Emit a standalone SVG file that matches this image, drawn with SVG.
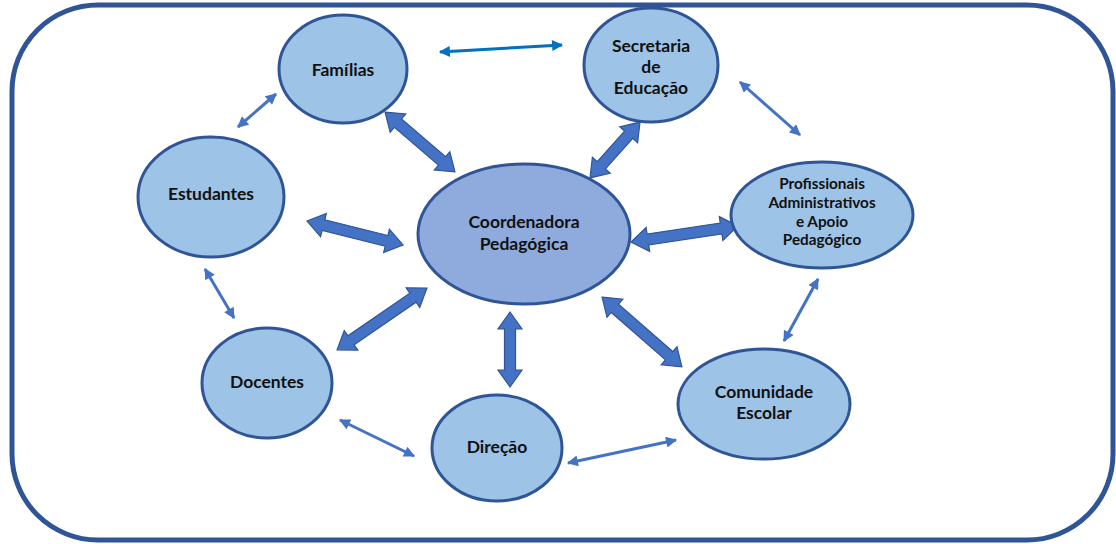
<svg xmlns="http://www.w3.org/2000/svg" width="1116" height="544" viewBox="0 0 1116 544">
<defs>
<style>
.node{fill:#9dc3e6;stroke:#2f5597;stroke-width:3}
.center{fill:#8faadc;stroke:#2f5597;stroke-width:3}
.lbl{font-family:Lato,"Liberation Sans",Arial,sans-serif;font-weight:bold;font-size:17.5px;fill:#111;text-anchor:middle}
.sm{font-size:15.3px}
.big{font-size:17.5px}
.blk{fill:#4472c4;stroke:#2f5597;stroke-width:1.2}
.thin{stroke:#4472c4;stroke-width:3;fill:none;marker-start:url(#ah);marker-end:url(#ah)}
.thin2{stroke:#0070c0;stroke-width:3;fill:none;marker-start:url(#ah2);marker-end:url(#ah2)}
</style>
<marker id="ah" viewBox="0 0 10 10" refX="9" refY="5" markerWidth="13" markerHeight="11" markerUnits="userSpaceOnUse" orient="auto-start-reverse"><path d="M0,0 L10,5 L0,10 Z" fill="#4472c4"/></marker>
<marker id="ah2" viewBox="0 0 10 10" refX="9" refY="5" markerWidth="13" markerHeight="11" markerUnits="userSpaceOnUse" orient="auto-start-reverse"><path d="M0,0 L10,5 L0,10 Z" fill="#0070c0"/></marker>
</defs>
<rect x="12" y="5" width="1101" height="535" rx="86" ry="86" fill="#fff" stroke="#2f5597" stroke-width="5"/>
<g id="connectors">
<path class="blk" transform="translate(420,142) rotate(40.6)" d="M-46,0 L-29,-12 L-29,-5.5 L29,-5.5 L29,-12 L46,0 L29,12 L29,5.5 L-29,5.5 L-29,12 Z"/>
<path class="blk" transform="translate(615,150) rotate(-48.2)" d="M-37.5,0 L-20.5,-12 L-20.5,-5.5 L20.5,-5.5 L20.5,-12 L37.5,0 L20.5,12 L20.5,5.5 L-20.5,5.5 L-20.5,12 Z"/>
<path class="blk" transform="translate(355,233) rotate(14)" d="M-49.5,0 L-32.5,-12 L-32.5,-5.5 L32.5,-5.5 L32.5,-12 L49.5,0 L32.5,12 L32.5,5.5 L-32.5,5.5 L-32.5,12 Z"/>
<path class="blk" transform="translate(684.5,234) rotate(-8.5)" d="M-54,0 L-37,-12 L-37,-5.5 L37,-5.5 L37,-12 L54,0 L37,12 L37,5.5 L-37,5.5 L-37,12 Z"/>
<path class="blk" transform="translate(382,319) rotate(-34.6)" d="M-54.6,0 L-37.6,-12 L-37.6,-5.5 L37.6,-5.5 L37.6,-12 L54.6,0 L37.6,12 L37.6,5.5 L-37.6,5.5 L-37.6,12 Z"/>
<path class="blk" transform="translate(510,349.5) rotate(90)" d="M-37.5,0 L-20.5,-12 L-20.5,-5.5 L20.5,-5.5 L20.5,-12 L37.5,0 L20.5,12 L20.5,5.5 L-20.5,5.5 L-20.5,12 Z"/>
<path class="blk" transform="translate(642,332) rotate(41.2)" d="M-53,0 L-36,-12 L-36,-5.5 L36,-5.5 L36,-12 L53,0 L36,12 L36,5.5 L-36,5.5 L-36,12 Z"/>
<line class="thin2" x1="440" y1="52" x2="562" y2="45"/>
<line class="thin" x1="238" y1="127" x2="276" y2="94"/>
<line class="thin" x1="740" y1="82" x2="800" y2="135"/>
<line class="thin" x1="205" y1="269" x2="234" y2="318"/>
<line class="thin" x1="818" y1="279" x2="784" y2="341"/>
<line class="thin" x1="340" y1="420" x2="414" y2="456"/>
<line class="thin" x1="568" y1="463" x2="676" y2="440"/>
</g>
<g id="familias"><ellipse class="node" cx="343" cy="69" rx="64" ry="54"/><text class="lbl" x="343" y="76">Famílias</text></g>
<g id="secretaria"><ellipse class="node" cx="651" cy="65" rx="67" ry="57"/><text class="lbl" x="651" y="52">Secretaria</text><text class="lbl" x="651" y="73">de</text><text class="lbl" x="651" y="94">Educação</text></g>
<g id="estudantes"><ellipse class="node" cx="211" cy="197" rx="73" ry="60"/><text class="lbl" x="211" y="200">Estudantes</text></g>
<g id="coordenadora"><ellipse class="center" cx="524" cy="234" rx="106" ry="70"/><text class="lbl big" x="524" y="228">Coordenadora</text><text class="lbl big" x="524" y="250">Pedagógica</text></g>
<g id="profissionais"><ellipse class="node" cx="822" cy="215" rx="91" ry="53"/><text class="lbl sm" x="822" y="189">Profissionais</text><text class="lbl sm" x="822" y="208">Administrativos</text><text class="lbl sm" x="822" y="227">e Apoio</text><text class="lbl sm" x="822" y="245">Pedagógico</text></g>
<g id="docentes"><ellipse class="node" cx="267" cy="383" rx="65" ry="55"/><text class="lbl" x="267" y="388">Docentes</text></g>
<g id="direcao"><ellipse class="node" cx="497" cy="448" rx="65" ry="53"/><text class="lbl" x="497" y="453">Direção</text></g>
<g id="comunidade"><ellipse class="node" cx="764" cy="404" rx="86" ry="55"/><text class="lbl" x="764" y="398">Comunidade</text><text class="lbl" x="764" y="419">Escolar</text></g>
</svg>
